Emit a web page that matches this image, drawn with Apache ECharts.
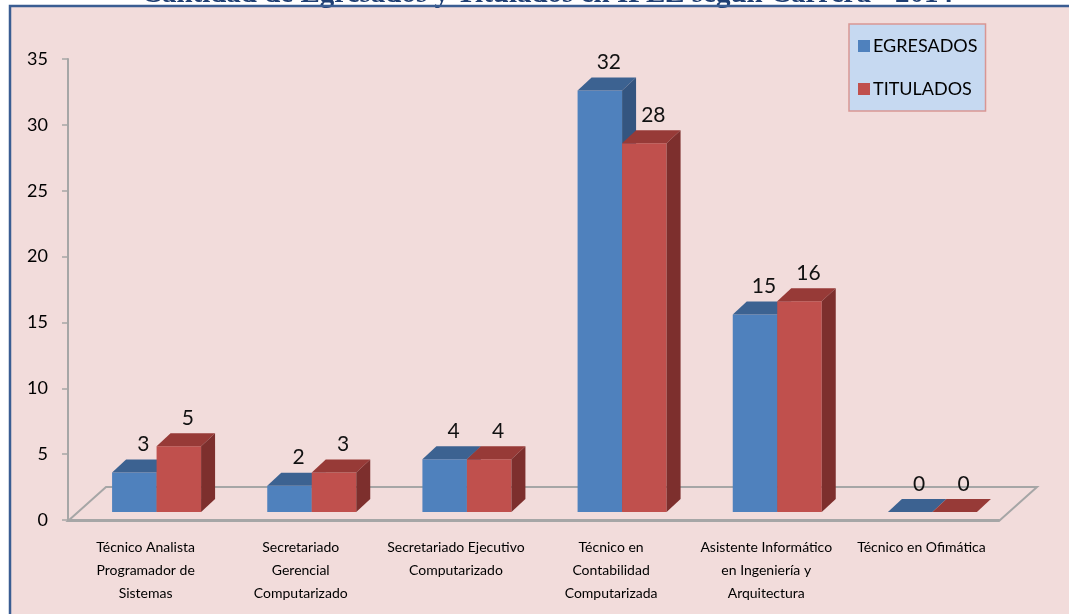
<!DOCTYPE html>
<html>
<head>
<meta charset="utf-8">
<script src="https://cdn.jsdelivr.net/npm/echarts@6/dist/echarts.min.js"></script>
<style>
html,body{margin:0;padding:0;background:#fff;}
#chart{width:1069px;height:614px;}
</style>
</head>
<body>
<div id="chart"></div>
<script>
// ---- data ----
const TITLE = 'Cantidad de Egresados y Titulados en IPLZ según Carrera - 2014';
const CATEGORIES = [
  'Técnico Analista\nProgramador de\nSistemas',
  'Secretariado\nGerencial\nComputarizado',
  'Secretariado Ejecutivo\nComputarizado',
  'Técnico en\nContabilidad\nComputarizada',
  'Asistente Informático\nen Ingeniería y\nArquitectura',
  'Técnico en Ofimática'
];
const SERIES_NAMES = ['EGRESADOS', 'TITULADOS'];
const EGRESADOS = [3, 2, 4, 32, 15, 0];
const TITULADOS = [5, 3, 4, 28, 16, 0];
const Y_MIN = 0, Y_MAX = 35, Y_STEP = 5;

// ---- style ----
const FONT = "Lato, 'Open Sans', sans-serif";
const COLORS = [
  {front: '#4F81BD', top: '#3C6291', side: '#345580'},
  {front: '#C0504D', top: '#973A37', side: '#7D2F2D'}
];
const BAR_W = 44.5, DEPTH_X = 14, DEPTH_Y = 13, SHIFT_X = 11, SHIFT_Y = 8;
const FLOOR_DX = 38, FLOOR_DY = 34;

function barRenderer(k) {
  return function (params, api) {
    const cat = api.value(0), v = api.value(1);
    const base = api.coord([cat, 0]);
    const topP = api.coord([cat, v]);
    const x0 = base[0] + SHIFT_X - BAR_W + k * BAR_W;
    const y0 = base[1] - SHIFT_Y;
    const yt = topP[1] - SHIFT_Y;
    const c = COLORS[k];
    return {
      type: 'group',
      children: [
        {type: 'rect', shape: {x: x0, y: yt, width: BAR_W, height: Math.max(0, y0 - yt)}, style: {fill: c.front}},
        {type: 'polygon', shape: {points: [[x0, yt], [x0 + BAR_W, yt], [x0 + BAR_W + DEPTH_X, yt - DEPTH_Y], [x0 + DEPTH_X, yt - DEPTH_Y]]}, style: {fill: c.top}},
        {type: 'polygon', shape: {points: [[x0 + BAR_W, yt], [x0 + BAR_W, y0], [x0 + BAR_W + DEPTH_X, y0 - DEPTH_Y], [x0 + BAR_W + DEPTH_X, yt - DEPTH_Y]]}, style: {fill: c.side}},
        {type: 'text', style: {text: String(v), x: x0 + BAR_W / 2 + 9, y: yt - DEPTH_Y - 15, textAlign: 'center', textVerticalAlign: 'middle', font: '21px ' + FONT, fill: '#111'}}
      ]
    };
  };
}

function floorRenderer(params, api) {
  const cs = params.coordSys;
  const xl = cs.x, xr = cs.x + cs.width, yb = cs.y + cs.height + 1;
  return {
    type: 'polygon',
    shape: {points: [[xl, yb], [xr, yb], [xr + FLOOR_DX, yb - FLOOR_DY], [xl + FLOOR_DX, yb - FLOOR_DY]]},
    style: {fill: 'none', stroke: '#A6A6A6', lineWidth: 2}
  };
}

const chart = echarts.init(document.getElementById('chart'), null, {renderer: 'canvas'});
chart.setOption({
  backgroundColor: '#F2DCDB',
  animation: false,
  graphic: [
    {type: 'rect', z: 100, shape: {x: 0, y: 0, width: 1069, height: 5}, style: {fill: '#fff'}},
    {type: 'rect', z: 100, shape: {x: 0, y: 0, width: 9, height: 614}, style: {fill: '#fff'}},
    {type: 'text', z: 101, style: {text: TITLE, x: 547, y: -5, textAlign: 'center', textVerticalAlign: 'middle', font: 'bold 29px "Liberation Serif", serif', fill: '#1F3F73'}},
    {type: 'polyline', z: 102, shape: {points: [[10, 614], [10, 6], [1069, 6]]}, style: {stroke: '#3A5D92', lineWidth: 2.5, fill: 'none'}}
  ],
  legend: {
    orient: 'vertical',
    left: 849, top: 24,
    data: SERIES_NAMES,
    icon: 'rect',
    itemWidth: 12, itemHeight: 12,
    itemGap: 23,
    padding: [12, 8, 12, 9],
    backgroundColor: '#C6D9F1',
    borderColor: '#D99694',
    borderWidth: 1.5,
    textStyle: {fontFamily: FONT, fontSize: 18, color: '#000', lineHeight: 20, padding: [0, 0, 0, -2]}
  },
  grid: {left: 68, right: 70, top: 59, bottom: 94, containLabel: false},
  xAxis: {
    type: 'category',
    data: CATEGORIES,
    axisLine: {lineStyle: {color: '#A6A6A6', width: 2}},
    axisTick: {length: 6, lineStyle: {color: '#A6A6A6', width: 1.5}},
    axisLabel: {interval: 0, margin: 16, fontFamily: FONT, fontSize: 14, lineHeight: 23, color: '#000'}
  },
  yAxis: {
    type: 'value',
    min: Y_MIN, max: Y_MAX, interval: Y_STEP,
    splitLine: {show: false},
    axisLine: {show: true, lineStyle: {color: '#A6A6A6', width: 2}},
    axisTick: {show: true, length: 6, lineStyle: {color: '#A6A6A6', width: 1.5}},
    axisLabel: {margin: 20, fontFamily: FONT, fontSize: 18, color: '#000'}
  },
  series: [
    {type: 'custom', name: 'floor', renderItem: floorRenderer, data: [[0, 0]], silent: true, z: 1},
    {type: 'custom', name: SERIES_NAMES[0], renderItem: barRenderer(0), itemStyle: {color: COLORS[0].front},
     data: EGRESADOS.map((v, i) => [i, v]), z: 2},
    {type: 'custom', name: SERIES_NAMES[1], renderItem: barRenderer(1), itemStyle: {color: COLORS[1].front},
     data: TITULADOS.map((v, i) => [i, v]), z: 3}
  ]
});
</script>
</body>
</html>
